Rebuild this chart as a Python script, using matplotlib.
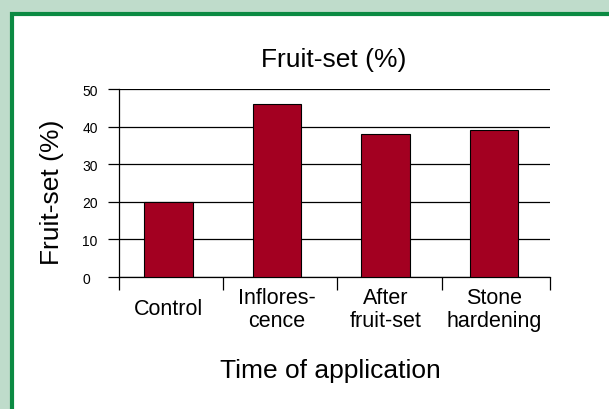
import matplotlib
matplotlib.use("Agg")
import matplotlib.pyplot as plt
from matplotlib.patches import Rectangle

plt.rcParams['font.family'] = ['Liberation Sans', 'DejaVu Sans']

# data
categories = ["Control", "Inflores-\ncence", "After\nfruit-set", "Stone\nhardening"]
fruit_set = [20, 46, 38, 39]
y_ticks = [0, 10, 20, 30, 40, 50]

W, H = 609, 410
fig = plt.figure(figsize=(W / 100, H / 100), dpi=100, facecolor="#bfdccb")

# white panel with green frame
panel = Rectangle((11.5 / W, -0.2), 1.2, 1 - 15 / H + 0.2, transform=fig.transFigure,
                  facecolor="white", edgecolor="#0b8a42", linewidth=3.0, zorder=0)
fig.add_artist(panel)

ax = fig.add_axes([119 / W, 1 - 278 / H, (550 - 119) / W, (278 - 90) / H])
ax.set_facecolor("none")

x = list(range(len(categories)))
ax.bar(x, fruit_set, width=0.45, color="#a30021", edgecolor="black", linewidth=0.8, zorder=3)

ax.set_xlim(-0.455, 3.516)
ax.set_ylim(0, 50)

# horizontal grid lines reaching out past the left spine
ax.set_yticks(y_ticks)
ax.set_yticklabels([str(v) for v in y_ticks], fontsize=10)
ax.yaxis.grid(True, color="black", linewidth=0.9, zorder=1)
ax.tick_params(axis="y", direction="out", length=8, width=0.9, pad=18.5)
for lbl in ax.get_yticklabels():
    lbl.set_horizontalalignment("left")

# category boundaries as major ticks, labels on minor ticks
ax.set_xticks([-0.455, 0.5, 1.55, 2.52, 3.516])
ax.set_xticklabels([])
ax.set_xticks(x, minor=True)
ax.set_xticklabels(categories, minor=True, fontsize=15.5, linespacing=1.1)
ax.tick_params(axis="x", which="major", direction="out", length=9, width=0.9)
ax.tick_params(axis="x", which="minor", length=0, pad=23)
for lbl in ax.get_xticklabels(minor=True):
    lbl.set_verticalalignment("center")
    lbl.set_multialignment("center")

for side in ["top", "right"]:
    ax.spines[side].set_visible(False)
ax.spines["left"].set_linewidth(0.9)
ax.spines["bottom"].set_linewidth(0.9)

fig.text(334 / W, 1 - 60 / H, "Fruit-set (%)", fontsize=19, ha="center", va="center")
fig.text(52 / W, 1 - 192 / H, "Fruit-set (%)", fontsize=19, rotation=90,
         ha="center", va="center")
fig.text(330 / W, 1 - 371 / H, "Time of application", fontsize=19, ha="center", va="center")

fig.savefig("out.png", dpi=100, facecolor=fig.get_facecolor())
